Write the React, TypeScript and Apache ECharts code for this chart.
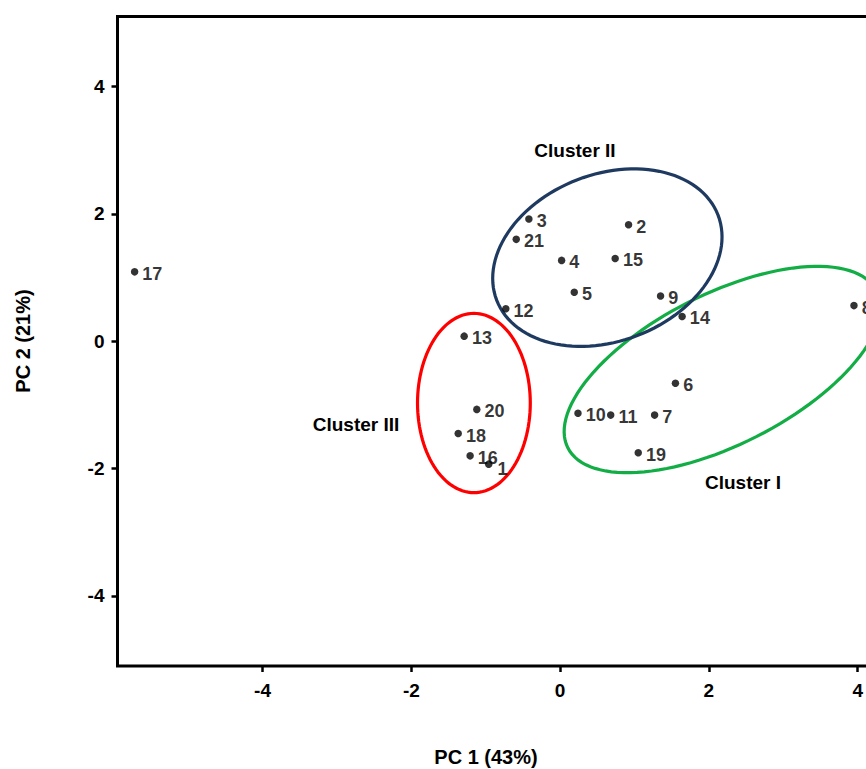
import React, { useEffect, useRef } from "react";
import * as echarts from "echarts";

const sampleIds = ["1","2","3","4","5","6","7","8","9","10","11","12","13","14","15","16","17","18","19","20","21"];
const pc1 = [-0.96, 0.92, -0.42, 0.02, 0.19, 1.55, 1.27, 3.95, 1.35, 0.24, 0.68, -0.73, -1.29, 1.64, 0.74, -1.21, -5.72, -1.37, 1.05, -1.12, -0.59];
const pc2 = [-1.93, 1.83, 1.92, 1.27, 0.77, -0.66, -1.16, 0.56, 0.71, -1.13, -1.16, 0.51, 0.08, 0.39, 1.30, -1.80, 1.09, -1.45, -1.75, -1.07, 1.60];

const tickValues = [-4, -2, 0, 2, 4];

const clusterNames = ["Cluster I", "Cluster II", "Cluster III"];
const clusterCenterX = [2.18, 0.635, -1.159];
const clusterCenterY = [-0.444, 1.313, -0.97];
const clusterSemiA = [2.328, 1.594, 0.758];
const clusterSemiB = [1.012, 1.122, 1.205];
const clusterTilt = [26.9, 21, 0];
const clusterColors = ["#12ad45", "#1f3a60", "#ff0000"];

const FONT = "'Liberation Sans', Arial, Helvetica, sans-serif";

export default function App() {
  const ref = useRef<HTMLDivElement>(null);
  useEffect(() => {
    if (!ref.current) return;
    const chart = echarts.init(ref.current, null, { renderer: "svg" });
    const points = sampleIds.map((id, i) => ({
      name: id,
      value: [pc1[i], pc2[i]],
      label: id === "1" ? { offset: [1, 5] } : undefined,
    }));
    const ellipses = clusterNames.map((n, i) => [
      clusterCenterX[i], clusterCenterY[i], clusterSemiA[i], clusterSemiB[i], clusterTilt[i], i,
    ]);
    const tick = {
      show: true,
      inside: false,
      length: 6,
      customValues: tickValues,
      lineStyle: { color: "#000", width: 2.5 },
    };
    const lbl = {
      customValues: tickValues,
      color: "#000",
      fontFamily: FONT,
      fontWeight: "bold",
      fontSize: 19,
    };
    chart.setOption({
      animation: false,
      grid: {
        left: 117.5,
        top: 16.5,
        right: 0,
        bottom: 103,
        show: true,
        borderColor: "#000",
        borderWidth: 3,
        backgroundColor: "transparent",
      },
      xAxis: {
        type: "value",
        min: -5.95,
        max: 4.3,
        axisLine: { show: false, onZero: false },
        splitLine: { show: false },
        axisTick: tick,
        axisLabel: { ...lbl, margin: 15 },
      },
      yAxis: {
        type: "value",
        min: -5.1,
        max: 5.1,
        axisLine: { show: false, onZero: false },
        splitLine: { show: false },
        axisTick: tick,
        axisLabel: { ...lbl, margin: 13, padding: [4, 0, 0, 0] },
      },
      graphic: [
        {
          type: "text",
          x: 486,
          y: 757,
          style: {
            text: "PC 1 (43%)",
            font: `bold 20px ${FONT}`,
            fill: "#000",
            align: "center",
            verticalAlign: "middle",
          },
        },
        {
          type: "text",
          x: 23,
          y: 341,
          rotation: Math.PI / 2,
          style: {
            text: "PC 2 (21%)",
            font: `bold 20px ${FONT}`,
            fill: "#000",
            align: "center",
            verticalAlign: "middle",
          },
        },
        {
          type: "text",
          x: 743,
          y: 482,
          style: { text: clusterNames[0], font: `bold 19px ${FONT}`, fill: "#000", align: "center", verticalAlign: "middle" },
        },
        {
          type: "text",
          x: 575,
          y: 150,
          style: { text: clusterNames[1], font: `bold 19px ${FONT}`, fill: "#000", align: "center", verticalAlign: "middle" },
        },
        {
          type: "text",
          x: 356,
          y: 424,
          style: { text: clusterNames[2], font: `bold 19px ${FONT}`, fill: "#000", align: "center", verticalAlign: "middle" },
        },
      ],
      series: [
        {
          type: "custom",
          coordinateSystem: "cartesian2d",
          encode: { x: 0, y: 1 },
          silent: true,
          z: 1,
          data: ellipses,
          renderItem: (params: any, api: any) => {
            const c = api.coord([api.value(0), api.value(1)]);
            const unit = api.size([1, 0])[0];
            const a = api.value(2) * unit;
            const b = api.value(3) * unit;
            const th = (api.value(4) * Math.PI) / 180;
            const idx = api.value(5);
            const pts: number[][] = [];
            const N = 120;
            for (let k = 0; k < N; k++) {
              const t = (k / N) * Math.PI * 2;
              const ex = a * Math.cos(t);
              const ey = b * Math.sin(t);
              pts.push([
                c[0] + ex * Math.cos(th) - ey * Math.sin(th),
                c[1] - (ex * Math.sin(th) + ey * Math.cos(th)),
              ]);
            }
            return {
              type: "polygon",
              shape: { points: pts },
              style: { fill: "none", stroke: clusterColors[idx], lineWidth: 3.2 },
            };
          },
        },
        {
          type: "scatter",
          z: 3,
          symbol: "circle",
          symbolSize: 7.5,
          itemStyle: { color: "#000" },
          data: points,
          label: {
            show: true,
            position: "right",
            distance: 4,
            offset: [0, 2],
            formatter: "{b}",
            color: "#000",
            fontFamily: FONT,
            fontWeight: "bold",
            fontSize: 18,
          },
        },
      ],
    });
    return () => chart.dispose();
  }, []);
  return (
    <div
      style={{ position: "absolute", left: 0, top: 0, width: 866, height: 769, overflow: "hidden", background: "#fff" }}
    >
      <div ref={ref} style={{ width: 880, height: 769 }} />
    </div>
  );
}
